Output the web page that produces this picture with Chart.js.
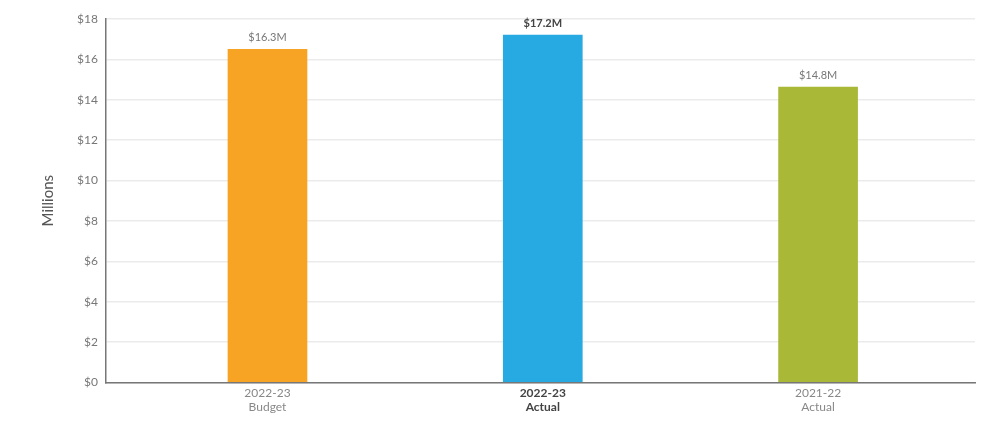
<!DOCTYPE html>
<html>
<head>
<meta charset="utf-8">
<script src="https://cdn.jsdelivr.net/npm/chart.js@4.4.1/dist/chart.umd.min.js"></script>
<style>
  html, body { margin: 0; padding: 0; background: #fff; }
  #wrap { width: 994px; height: 426px; }
</style>
</head>
<body>
<div id="wrap"><canvas id="chart"></canvas></div>
<script>
const categories = [['2022-23', 'Budget'], ['2022-23', 'Actual'], ['2021-22', 'Actual']];
const values = [16.5, 17.2, 14.63];
const valueLabels = ['$16.3M', '$17.2M', '$14.8M'];
const barColors = ['#f7a324', '#27a9e1', '#a9b837'];
const highlight = 1; // the bold one
const yTicks = [0, 2, 4, 6, 8, 10, 12, 14, 16, 18];

const fontFamily = 'Lato, "Open Sans", sans-serif';

const valueLabelPlugin = {
    id: 'valueLabels',
    afterDatasetsDraw(chart) {
        const ctx = chart.ctx;
        const meta = chart.getDatasetMeta(0);
        ctx.save();
        ctx.textAlign = 'center';
        ctx.textBaseline = 'bottom';
        meta.data.forEach((bar, i) => {
            ctx.font = (i === highlight ? 'bold ' : '') + '11px ' + fontFamily;
            ctx.fillStyle = i === highlight ? '#444' : '#777';
            ctx.fillText(valueLabels[i], bar.x, bar.y - 6);
        });
        ctx.restore();
    }
};

const ctx = document.getElementById('chart').getContext('2d');
new Chart(ctx, {
    type: 'bar',
    data: {
        datasets: [{
            data: values.map((v, i) => ({ x: i, y: v })),
            backgroundColor: barColors,
            barThickness: 79,
        }],
    },
    options: {
        responsive: true,
        maintainAspectRatio: false,
        animation: false,
        layout: { padding: { top: 19, right: 19, bottom: 8, left: 35 } },
        plugins: {
            legend: { display: false },
            tooltip: { enabled: false },
        },
        scales: {
            x: {
                type: 'linear',
                offset: false,
                min: -0.587,
                max: 2.57,
                afterBuildTicks(axis) {
                    axis.ticks = categories.map((c, i) => ({ value: i }));
                },
                ticks: {
                    callback: (val) => categories[val],
                    color: (c) => c.index === highlight ? '#444' : '#888',
                    font: (c) => ({
                        family: fontFamily,
                        size: 12,
                        weight: c.index === highlight ? 'bold' : 'normal',
                        lineHeight: 1.15,
                    }),
                    maxRotation: 0,
                    padding: 4,
                },
                grid: { display: false, drawTicks: false },
                border: { color: '#777', width: 1.5 },
            },
            y: {
                min: 0,
                max: 18,
                afterBuildTicks(axis) {
                    axis.ticks = yTicks.map(v => ({ value: v }));
                },
                ticks: {
                    callback: (v) => '$' + v,
                    color: '#777',
                    font: { family: fontFamily, size: 12 },
                    padding: 8,
                },
                grid: { color: '#ebebeb', lineWidth: 1.5, drawTicks: false },
                border: { color: '#777', width: 1.5 },
                title: {
                    display: true,
                    text: 'Millions',
                    color: '#555',
                    font: { family: fontFamily, size: 15 },
                    padding: { bottom: 12 },
                },
            },
        },
    },
    plugins: [valueLabelPlugin],
});
</script>
</body>
</html>
